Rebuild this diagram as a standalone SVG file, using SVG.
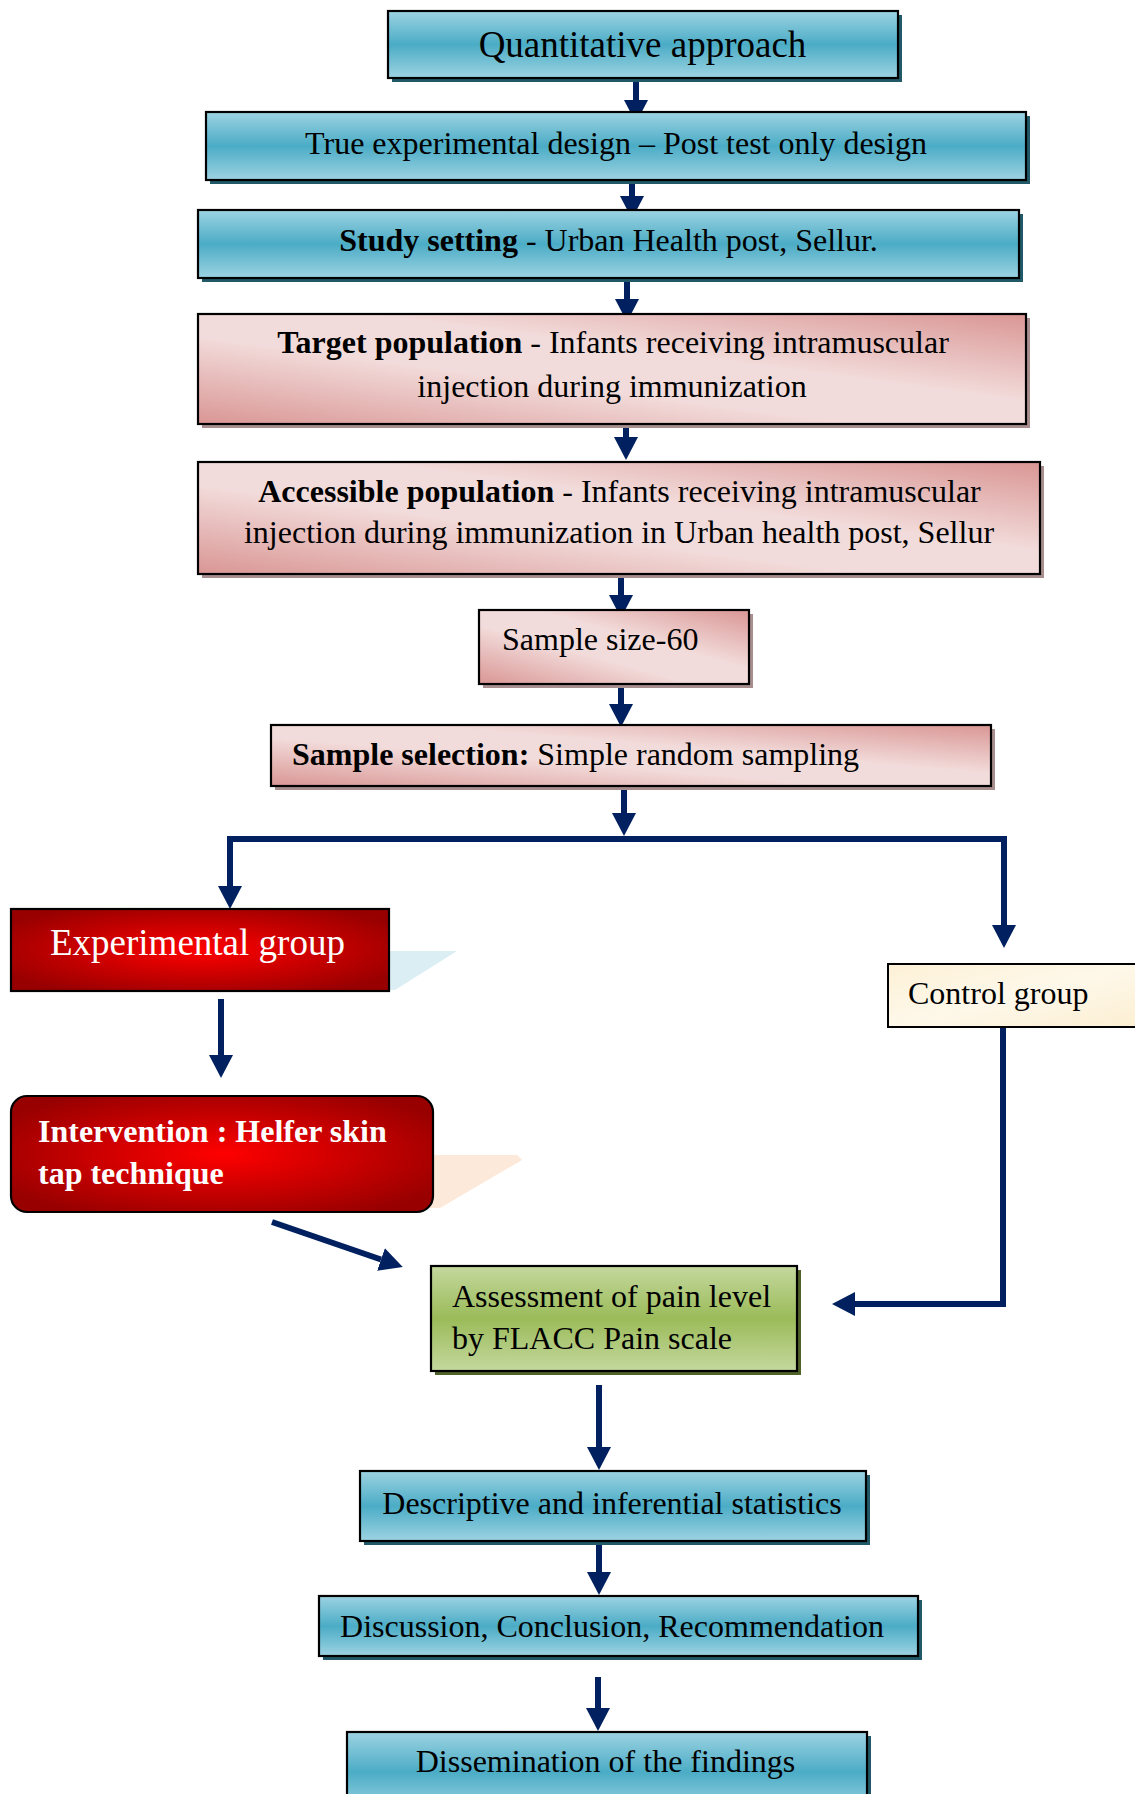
<svg xmlns="http://www.w3.org/2000/svg" width="1135" height="1794" viewBox="0 0 1135 1794">
<style>
  text { font-family: "Liberation Serif", "Times New Roman", serif; font-size: 32px; fill: #000; }
  .box { stroke: #000; stroke-width: 2.2; }
  .blue { fill: url(#gBlue); }
  .pink { fill: url(#gPink); }
  .green { fill: url(#gGreen); }
  .red { fill: url(#gRed); }
  .shBlue { fill: #215968; }
  .shPink { fill: #a88e8e; }
  .shGreen { fill: #4f6228; }
  .conn { fill: none; stroke: #002060; stroke-width: 6; }
  .w { fill: #fff; }
</style>
<defs>
  <linearGradient id="gBlue" x1="0" y1="0" x2="0" y2="1">
    <stop offset="0" stop-color="#9dd3e2"/>
    <stop offset="0.5" stop-color="#4bacc6"/>
    <stop offset="1" stop-color="#9dd3e2"/>
  </linearGradient>
  <linearGradient id="gPink" x1="0" y1="1" x2="1" y2="0">
    <stop offset="0" stop-color="#d99694"/>
    <stop offset="0.4" stop-color="#f2dcdb"/>
    <stop offset="0.6" stop-color="#f2dcdb"/>
    <stop offset="1" stop-color="#d99694"/>
  </linearGradient>
  <linearGradient id="gGreen" x1="0" y1="0" x2="0" y2="1">
    <stop offset="0" stop-color="#c4d89e"/>
    <stop offset="0.5" stop-color="#9bbb59"/>
    <stop offset="1" stop-color="#c4d89e"/>
  </linearGradient>
  <radialGradient id="gRed" cx="0.5" cy="0.5" r="0.6">
    <stop offset="0" stop-color="#ff0000"/>
    <stop offset="1" stop-color="#980000"/>
  </radialGradient>
  <linearGradient id="gCream" x1="0" y1="0" x2="1" y2="1">
    <stop offset="0" stop-color="#fdf1d6"/>
    <stop offset="0.5" stop-color="#fef8ea"/>
    <stop offset="1" stop-color="#fcefd2"/>
  </linearGradient>
  <marker id="ah" markerUnits="userSpaceOnUse" markerWidth="24" markerHeight="24" viewBox="0 0 24 24" refX="0" refY="12" orient="auto">
    <path d="M0,0 L23,12 L0,24 Z" fill="#002060"/>
  </marker>
</defs>

<g id="connectors">
  <path class="conn" d="M636,78 V100" marker-end="url(#ah)"/>
  <path class="conn" d="M632,180 V196" marker-end="url(#ah)"/>
  <path class="conn" d="M627,280 V299" marker-end="url(#ah)"/>
  <path class="conn" d="M626,424 V437" marker-end="url(#ah)"/>
  <path class="conn" d="M621,574 V595" marker-end="url(#ah)"/>
  <path class="conn" d="M621,685 V704" marker-end="url(#ah)"/>
  <path class="conn" d="M624,787 V813" marker-end="url(#ah)"/>
  <path class="conn" d="M627,839 H230 V886" marker-end="url(#ah)"/>
  <path class="conn" d="M621,839 H1004 V925" marker-end="url(#ah)"/>
  <path class="conn" d="M221,999 V1055" marker-end="url(#ah)"/>
  <path class="conn" d="M272,1222 L381,1259.5" marker-end="url(#ah)"/>
  <path class="conn" d="M1003,1028 V1304 H855" marker-end="url(#ah)"/>
  <path class="conn" d="M599,1385 V1447" marker-end="url(#ah)"/>
  <path class="conn" d="M599,1541 V1572" marker-end="url(#ah)"/>
  <path class="conn" d="M598,1677 V1708" marker-end="url(#ah)"/>
</g>

<g id="n1">
  <rect class="shBlue" x="392" y="15" width="510" height="67"/>
  <rect class="box blue" x="388" y="11" width="510" height="67"/>
  <text x="642.5" y="57" text-anchor="middle" style="font-size:37px">Quantitative approach</text>
</g>

<g id="n2">
  <rect class="shBlue" x="210" y="116" width="820" height="68"/>
  <rect class="box blue" x="206" y="112" width="820" height="68"/>
  <text x="616" y="154" text-anchor="middle">True experimental design – Post test only design</text>
</g>

<g id="n3">
  <rect class="shBlue" x="202" y="214" width="821" height="68"/>
  <rect class="box blue" x="198" y="210" width="821" height="68"/>
  <text x="608.5" y="251" text-anchor="middle"><tspan font-weight="bold">Study setting</tspan> - Urban Health post, Sellur.</text>
</g>

<g id="n4">
  <rect class="shPink" x="202" y="318" width="828" height="110"/>
  <rect class="box pink" x="198" y="314" width="828" height="110"/>
  <text x="613" y="353" text-anchor="middle"><tspan font-weight="bold">Target population</tspan> - Infants receiving intramuscular</text>
  <text x="612" y="397" text-anchor="middle">injection during immunization</text>
</g>

<g id="n5">
  <rect class="shPink" x="202" y="466" width="842" height="112"/>
  <rect class="box pink" x="198" y="462" width="842" height="112"/>
  <text x="619.5" y="502" text-anchor="middle"><tspan font-weight="bold">Accessible population</tspan> - Infants receiving intramuscular</text>
  <text x="619" y="543" text-anchor="middle">injection during immunization in Urban health post, Sellur</text>
</g>

<g id="n6">
  <rect class="shPink" x="483" y="614" width="270" height="74"/>
  <rect class="box pink" x="479" y="610" width="270" height="74"/>
  <text x="502" y="650">Sample size-60</text>
</g>

<g id="n7">
  <rect class="shPink" x="275" y="729" width="720" height="61"/>
  <rect class="box pink" x="271" y="725" width="720" height="61"/>
  <text x="292" y="765"><tspan font-weight="bold">Sample selection:</tspan> Simple random sampling</text>
</g>

<g id="n8">
  <polygon points="389,951 457,951 395,990 389,990" fill="#daeef3"/>
  <rect class="box red" x="11" y="909" width="378" height="82"/>
  <text class="w" x="50" y="955" style="font-size:37px">Experimental group</text>
</g>

<g id="n9">
  <rect x="888" y="964" width="250" height="63" fill="url(#gCream)" stroke="#000" stroke-width="2"/>
  <text x="908" y="1004">Control group</text>
</g>

<g id="n10">
  <polygon points="425,1155 517,1155 522,1160 440,1208 425,1208" fill="#fde9d9"/>
  <rect class="box red" x="11" y="1096" width="422" height="116" rx="16" ry="16"/>
  <text class="w" x="38" y="1142" font-weight="bold">Intervention : Helfer skin</text>
  <text class="w" x="38" y="1184" font-weight="bold">tap technique</text>
</g>

<g id="n11">
  <rect class="shGreen" x="435" y="1270" width="366" height="105"/>
  <rect class="box green" x="431" y="1266" width="366" height="105"/>
  <text x="452" y="1307">Assessment of pain level</text>
  <text x="452" y="1349">by FLACC Pain scale</text>
</g>

<g id="n12">
  <rect class="shBlue" x="364" y="1475" width="506" height="70"/>
  <rect class="box blue" x="360" y="1471" width="506" height="70"/>
  <text x="612" y="1514" text-anchor="middle">Descriptive and inferential statistics</text>
</g>

<g id="n13">
  <rect class="shBlue" x="323" y="1600" width="599" height="60"/>
  <rect class="box blue" x="319" y="1596" width="599" height="60"/>
  <text x="612" y="1637" text-anchor="middle">Discussion, Conclusion, Recommendation</text>
</g>

<g id="n14">
  <rect class="shBlue" x="351" y="1736" width="520" height="80"/>
  <rect class="box blue" x="347" y="1732" width="520" height="80"/>
  <text x="605.5" y="1772" text-anchor="middle">Dissemination of the findings</text>
</g>
</svg>
